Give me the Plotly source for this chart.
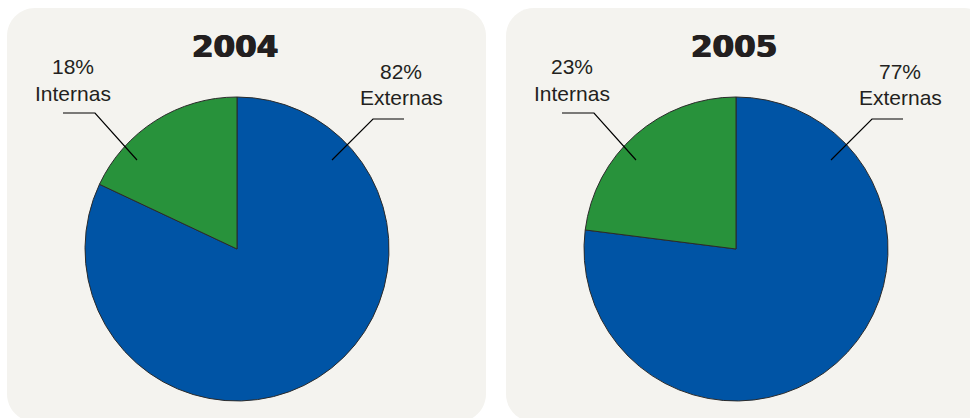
import plotly.graph_objects as go

# Share of operations by origin, per year
years = ["2004", "2005"]
categories = ["Externas", "Internas"]
externas = [82, 77]
internas = [18, 23]

W, H = 970, 418
BLUE = "#0054a5"
GREEN = "#28923b"
PANEL = "#f4f3ef"
TEXT = "#231f20"

pie_centers_x = [237, 736]
pie_center_y = 249
pie_radius = 152
panels = [(7, 486), (506, 992)]
panel_top, panel_bottom, corner = 8, 422, 28


def rounded_rect(x0, y0, x1, y1, r):
    k = 0.5523 * r
    return (
        f"M{x0 + r},{y0} L{x1 - r},{y0} "
        f"C{x1 - r + k},{y0} {x1},{y0 + r - k} {x1},{y0 + r} "
        f"L{x1},{y1 - r} "
        f"C{x1},{y1 - r + k} {x1 - r + k},{y1} {x1 - r},{y1} "
        f"L{x0 + r},{y1} "
        f"C{x0 + r - k},{y1} {x0},{y1 - r + k} {x0},{y1 - r} "
        f"L{x0},{y0 + r} "
        f"C{x0},{y0 + r - k} {x0 + r - k},{y0} {x0 + r},{y0} Z"
    )


fig = go.Figure()

# hidden pixel-space axes used for panels, labels and leader lines
fig.add_trace(go.Scatter(x=[0, W], y=[0, H], mode="markers",
                         marker=dict(opacity=0), hoverinfo="skip", showlegend=False))

shapes = []
annotations = []
label_font = dict(family="Liberation Sans", size=21, color=TEXT)
title_font = dict(family="DejaVu Sans", size=31, color=TEXT,
                  shadow="0.7px 0 0 #231f20, -0.7px 0 0 #231f20")

for i, year in enumerate(years):
    cx = pie_centers_x[i]
    values = [externas[i], internas[i]]
    fig.add_trace(go.Pie(
        labels=categories,
        values=values,
        sort=False,
        direction="clockwise",
        rotation=0,
        textinfo="none",
        marker=dict(colors=[BLUE, GREEN], line=dict(color="#2b2b2b", width=1)),
        domain=dict(
            x=[(cx - pie_radius) / W, (cx + pie_radius) / W],
            y=[(H - pie_center_y - pie_radius) / H, (H - pie_center_y + pie_radius) / H],
        ),
        showlegend=False,
        hoverinfo="label+percent",
    ))

    px0, px1 = panels[i]
    shapes.append(dict(type="path", xref="x", yref="y", layer="below",
                       path=rounded_rect(px0, panel_top, px1, panel_bottom, corner),
                       fillcolor=PANEL, line=dict(width=0)))

    annotations.append(dict(x=cx - 2, y=46, xref="x", yref="y", text=f"<b>{year}</b>",
                            showarrow=False, xanchor="center", yanchor="middle",
                            font=title_font))

    # Internas label (upper left)
    ix = cx - 164
    annotations.append(dict(x=ix, y=66, xref="x", yref="y", text=f"{internas[i]}%",
                            showarrow=False, xanchor="center", yanchor="middle",
                            font=label_font))
    annotations.append(dict(x=ix, y=93, xref="x", yref="y", text=categories[1],
                            showarrow=False, xanchor="center", yanchor="middle",
                            font=label_font))
    shapes.append(dict(type="path", xref="x", yref="y",
                       path=f"M{cx - 174},113 L{cx - 142},113 L{cx - 100},160",
                       line=dict(color="#000000", width=1.2)))

    # Externas label (upper right)
    ex = cx + 164
    annotations.append(dict(x=ex, y=71, xref="x", yref="y", text=f"{externas[i]}%",
                            showarrow=False, xanchor="center", yanchor="middle",
                            font=label_font))
    annotations.append(dict(x=ex, y=97, xref="x", yref="y", text=categories[0],
                            showarrow=False, xanchor="center", yanchor="middle",
                            font=label_font))
    shapes.append(dict(type="path", xref="x", yref="y",
                       path=f"M{cx + 167},119 L{cx + 136},119 L{cx + 95},160",
                       line=dict(color="#000000", width=1.2)))

fig.update_layout(
    width=W, height=H,
    margin=dict(l=0, r=0, t=0, b=0),
    paper_bgcolor="#ffffff",
    plot_bgcolor="rgba(0,0,0,0)",
    xaxis=dict(range=[0, W], visible=False, fixedrange=True),
    yaxis=dict(range=[H, 0], visible=False, fixedrange=True),
    shapes=shapes,
    annotations=annotations,
)

fig.write_html("out.html")
